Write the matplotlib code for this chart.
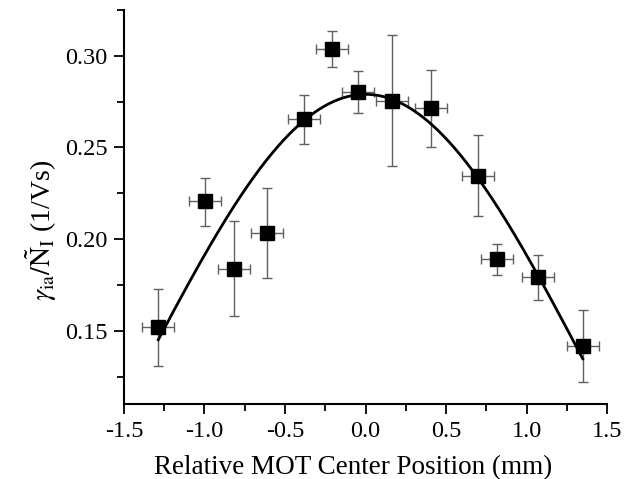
import numpy as np
import matplotlib
matplotlib.use('Agg')
import matplotlib.pyplot as plt
from matplotlib.ticker import MultipleLocator

plt.rcParams['font.family'] = 'Liberation Serif'
plt.rcParams['mathtext.fontset'] = 'stix'

# measured points (mm, 1/Vs)
pos = [-1.289, -0.997, -0.815, -0.61, -0.382, -0.21, -0.048, 0.165, 0.405, 0.699, 0.817, 1.071, 1.351]
rate = [0.152, 0.2206, 0.1836, 0.2035, 0.2655, 0.3038, 0.2802, 0.2755, 0.2713, 0.2346, 0.1889, 0.1791, 0.1417]
err_hi = [0.1726, 0.2335, 0.2099, 0.228, 0.2787, 0.3136, 0.2917, 0.3113, 0.2922, 0.2566, 0.1971, 0.1911, 0.1613]
err_lo = [0.131, 0.2073, 0.1582, 0.1786, 0.252, 0.294, 0.2689, 0.24, 0.2502, 0.2124, 0.1805, 0.1669, 0.122]
pos_err = 0.1

# gaussian fit parameters
fit_y0 = -0.1
fit_amp = 0.379
fit_xc = 0.0
fit_w = 1.378
fit_range = (-1.287, 1.349)

rate = np.array(rate)
yerr = [rate - np.array(err_lo), np.array(err_hi) - rate]

fig = plt.figure(figsize=(6.24, 4.79), dpi=100)
ax = fig.add_axes([0.1987, 0.1566, 0.7741, 0.8224])

ax.errorbar(pos, rate, yerr=yerr, xerr=pos_err, fmt='none', ecolor='#606060',
            elinewidth=1.0, capsize=3.5, capthick=1.0, zorder=2)
ax.plot(pos, rate, 's', color='black', markersize=10, zorder=3)

xf = np.linspace(fit_range[0], fit_range[1], 300)
yf = fit_y0 + fit_amp * np.exp(-(xf - fit_xc) ** 2 / (2 * fit_w ** 2))
ax.plot(xf, yf, color='black', lw=2, zorder=4)

ax.set_xlim(-1.5, 1.5)
ax.set_ylim(0.11, 0.325)
ax.xaxis.set_major_locator(MultipleLocator(0.5))
ax.xaxis.set_minor_locator(MultipleLocator(0.25))
ax.yaxis.set_major_locator(MultipleLocator(0.05))
ax.yaxis.set_minor_locator(MultipleLocator(0.025))
ax.xaxis.set_major_formatter(plt.FuncFormatter(lambda v, p: f'{v:.1f}'))
ax.yaxis.set_major_formatter(plt.FuncFormatter(lambda v, p: f'{v:.2f}'))

for s in ['top', 'right']:
    ax.spines[s].set_visible(False)
for s in ['left', 'bottom']:
    ax.spines[s].set_linewidth(1.5)
ax.tick_params(which='major', length=7, width=1.3, labelsize=17.5, direction='out')
ax.tick_params(which='minor', length=5, width=1.3, direction='out')
ax.tick_params(axis='x', pad=5)
ax.tick_params(axis='y', pad=5)

ax.set_xlabel('Relative MOT Center Position (mm)', fontsize=19.5, va='baseline')
ax.set_ylabel(r'$\gamma_{\mathrm{ia}}/\tilde{\mathrm{N}}_{\mathrm{I}}$ (1/Vs)', fontsize=20, va='center')
ax.xaxis.set_label_coords(0.474, -0.178)
ax.yaxis.set_label_coords(-0.172, 0.44)

fig.savefig('out.png', dpi=100)
